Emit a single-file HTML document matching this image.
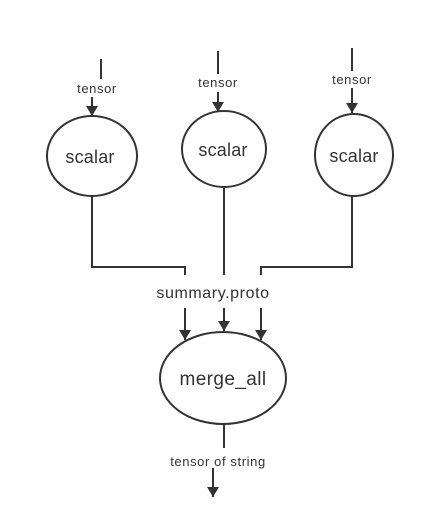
<!DOCTYPE html>
<html><head><style>html,body{margin:0;padding:0;background:#fff;}svg{display:block}</style></head>
<body>
<svg width="426" height="526" viewBox="0 0 426 526" xmlns="http://www.w3.org/2000/svg">
<defs>
<marker id="a" viewBox="0 0 10 12" refX="10" refY="6" markerWidth="10" markerHeight="12" markerUnits="userSpaceOnUse" orient="auto">
<path d="M0,0 L10,6 L0,12 z" fill="#333"/>
</marker>
</defs>
<g stroke="#333" stroke-width="2" fill="none">
<line x1="101" y1="59" x2="101" y2="79"/>
<line x1="92" y1="97" x2="92" y2="116" marker-end="url(#a)"/>
<line x1="218" y1="51" x2="218" y2="74"/>
<line x1="218" y1="92" x2="218" y2="112" marker-end="url(#a)"/>
<line x1="352" y1="48" x2="352" y2="71"/>
<line x1="352" y1="88" x2="352" y2="113" marker-end="url(#a)"/>
<ellipse cx="92" cy="156" rx="45" ry="40"/>
<ellipse cx="224" cy="149" rx="42" ry="38"/>
<ellipse cx="354" cy="155" rx="39" ry="41"/>
<polyline points="92,196 92,267 185,267 185,275"/>
<line x1="224" y1="187" x2="224" y2="275"/>
<polyline points="352,196 352,267 261,267 261,275"/>
<line x1="185" y1="308" x2="185" y2="340" marker-end="url(#a)"/>
<line x1="224" y1="308" x2="224" y2="331" marker-end="url(#a)"/>
<line x1="261" y1="308" x2="261" y2="340" marker-end="url(#a)"/>
<ellipse cx="223" cy="378" rx="63" ry="46"/>
<line x1="224" y1="424" x2="224" y2="448"/>
<line x1="213" y1="468" x2="213" y2="497" marker-end="url(#a)"/>
</g>
<g fill="#333" font-family="'Liberation Sans', 'DejaVu Sans', sans-serif" text-anchor="middle">
<text x="97" y="93" font-size="13" letter-spacing="0.6">tensor</text>
<text x="218" y="87" font-size="13" letter-spacing="0.6">tensor</text>
<text x="352" y="84" font-size="13" letter-spacing="0.6">tensor</text>
<text x="90" y="163" font-size="18" letter-spacing="0.2">scalar</text>
<text x="223" y="156" font-size="18" letter-spacing="0.2">scalar</text>
<text x="354" y="162" font-size="18" letter-spacing="0.2">scalar</text>
<text x="213" y="298" font-size="16" letter-spacing="0.6">summary.proto</text>
<text x="223" y="385" font-size="19" letter-spacing="0.4">merge_all</text>
<text x="218" y="466" font-size="13" letter-spacing="0.6">tensor of string</text>
</g>
</svg>
</body></html>
